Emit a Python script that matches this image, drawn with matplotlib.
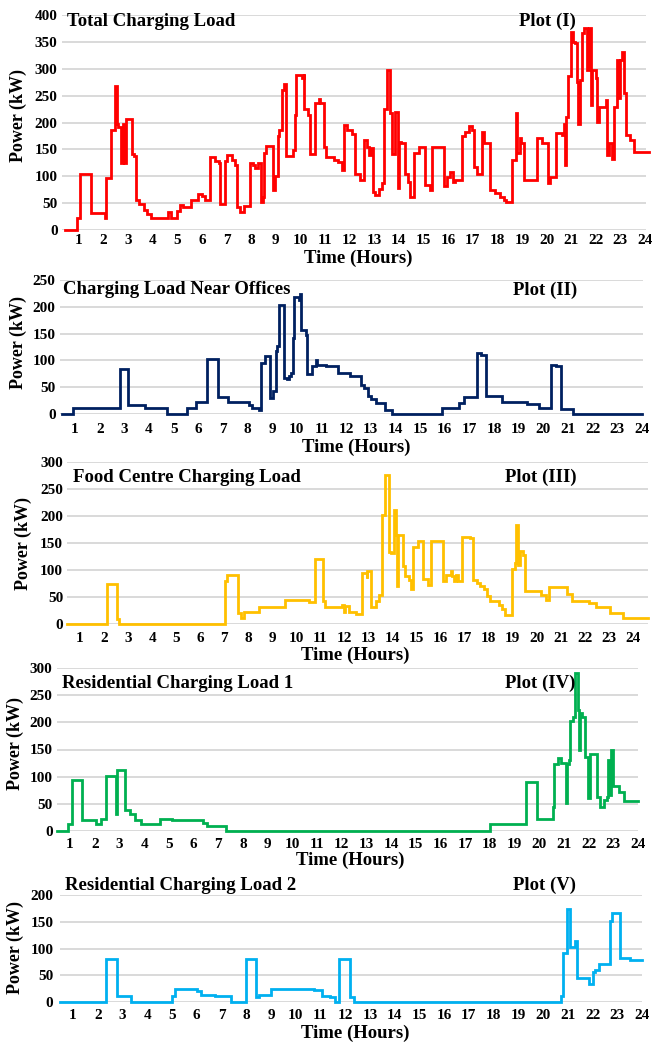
import matplotlib
matplotlib.use("Agg")
import matplotlib.pyplot as plt

W, H = 652, 1043

# Plot (I) - total charging load, step breakpoints (hour, kW)
hours_total = [0.44, 0.92, 1.05, 1.49, 2.07, 2.11, 2.30, 2.48, 2.54, 2.60, 2.71, 2.79, 2.84, 2.90,
               3.15, 3.25, 3.33, 3.46, 3.65, 3.79, 3.93, 4.64, 4.74, 4.98, 5.12, 5.25, 5.55, 5.86,
               6.00, 6.13, 6.34, 6.54, 6.68, 6.74, 6.95, 7.01, 7.22, 7.35, 7.42, 7.56, 7.73, 7.96,
               8.07, 8.17, 8.30, 8.40, 8.50, 8.53, 8.60, 8.91, 8.98, 9.11, 9.15, 9.25, 9.35, 9.43,
               9.72, 9.79, 9.83, 10.06, 10.13, 10.16, 10.33, 10.40, 10.61, 10.74, 10.78, 10.98,
               11.05, 11.35, 11.55, 11.69, 11.76, 11.89, 12.10, 12.23, 12.41, 12.57, 12.71, 12.77,
               12.87, 12.94, 13.02, 13.18, 13.32, 13.38, 13.52, 13.66, 13.72, 13.86, 13.95, 13.99,
               14.09, 14.27, 14.36, 14.47, 14.60, 14.83, 15.08, 15.28, 15.35, 15.82, 15.96, 16.09,
               16.20, 16.30, 16.57, 16.70, 16.84, 16.98, 17.07, 17.18, 17.38, 17.48, 17.72, 17.92,
               18.13, 18.26, 18.37, 18.60, 18.74, 18.80, 18.91, 18.98, 19.10, 19.62, 19.82, 20.06,
               20.16, 20.40, 20.63, 20.70, 20.77, 20.81, 20.86, 21.00, 21.08, 21.14, 21.22, 21.27,
               21.35, 21.45, 21.54, 21.65, 21.72, 21.79, 21.85, 21.99, 22.06, 22.12, 22.40, 22.46,
               22.53, 22.67, 22.76, 22.87, 22.94, 23.00, 23.07, 23.14, 23.21, 23.41, 23.55, 24.16]
power_total = [0, 22, 104, 31, 22, 96, 186, 268, 198, 192, 124, 198, 124, 207,
               141, 138, 56, 48, 37, 30, 22, 33, 22, 36, 47, 43, 56, 67,
               64, 56, 136, 128, 124, 48, 128, 140, 131, 121, 43, 34, 45, 125,
               121, 115, 125, 53, 62, 144, 156, 74, 100, 174, 186, 260, 271, 138,
               149, 214, 288, 282, 291, 226, 214, 141, 236, 243, 236, 155,
               135, 131, 127, 112, 195, 186, 178, 104, 93, 167, 155, 140,
               152, 71, 65, 76, 87, 226, 298, 217, 141, 220, 78, 164,
               161, 105, 90, 62, 143, 155, 84, 74, 155, 81, 99, 108,
               90, 93, 174, 183, 193, 186, 118, 105, 183, 161, 74, 69,
               62, 56, 53, 130, 217, 143, 171, 161, 93, 171, 161, 87,
               99, 180, 177, 198, 121, 211, 286, 369, 350, 347, 276, 198,
               279, 366, 375, 298, 375, 232, 298, 282, 201, 229, 242, 140,
               161, 133, 229, 316, 245, 316, 332, 254, 177, 167, 146, 146]

# Plot (II) - near offices
hours_office = [0.46, 0.90, 2.84, 3.14, 3.82, 4.74, 5.56, 5.90, 6.37, 6.78, 7.19, 8.07, 8.17,
                8.46, 8.55, 8.69, 8.89, 9.03, 9.16, 9.20, 9.26, 9.46, 9.61, 9.67, 9.78, 9.84,
                9.88, 10.07, 10.12, 10.18, 10.35, 10.41, 10.62, 10.76, 10.80, 11.18, 11.66,
                12.14, 12.59, 12.72, 12.88, 13.02, 13.22, 13.56, 13.86, 15.88, 16.56, 16.76,
                17.31, 17.48, 17.67, 18.30, 19.35, 19.82, 20.30, 20.53, 20.71, 21.21, 24.01]
power_office = [0, 11, 84, 17, 11, 0, 11, 22, 103, 31, 22, 17, 11,
                7, 96, 109, 30, 42, 117, 126, 203, 68, 66, 70, 76, 141,
                219, 213, 223, 156, 148, 75, 89, 101, 92, 89, 76,
                71, 55, 48, 34, 28, 20, 8, 0, 11, 20, 32,
                113, 110, 33, 22, 19, 11, 92, 89, 9, 0, 0]

# Plot (III) - food centre
hours_food = [0.45, 2.13, 2.54, 2.63, 7.04, 7.11, 7.55, 7.69, 7.83, 8.45, 9.52, 10.52, 10.77,
              11.10, 11.20, 11.90, 11.97, 12.04, 12.18, 12.46, 12.74, 12.92, 12.95, 13.12,
              13.30, 13.44, 13.55, 13.69, 13.83, 13.93, 14.04, 14.14, 14.18, 14.24, 14.42,
              14.52, 14.70, 14.77, 14.84, 15.05, 15.26, 15.47, 15.61, 16.10, 16.24, 16.42,
              16.49, 16.56, 16.62, 16.70, 16.87, 17.22, 17.36, 17.50, 17.64, 17.78, 17.92,
              18.06, 18.41, 18.55, 18.69, 18.97, 19.10, 19.13, 19.22, 19.31, 19.41, 19.52,
              20.15, 20.36, 20.50, 21.27, 21.48, 22.18, 22.46, 23.02, 23.58, 24.63]
power_food = [0, 74, 9, 0, 79, 90, 20, 11, 22, 31, 44, 41, 121,
              42, 31, 35, 22, 33, 23, 19, 94, 85, 99, 31,
              42, 54, 202, 275, 134, 131, 212, 165, 70, 164, 107,
              88, 82, 64, 143, 153, 84, 73, 154, 79, 91, 99,
              88, 79, 90, 80, 162, 159, 82, 76, 70, 64, 51,
              42, 36, 28, 17, 101, 113, 184, 110, 136, 128, 62,
              54, 44, 68, 56, 43, 39, 31, 20, 11, 11]

# Plot (IV) - residential 1
hours_res1 = [0.47, 0.91, 1.07, 1.47, 2.04, 2.27, 2.44, 2.87, 2.89, 3.24, 3.43, 3.64, 3.89,
              4.63, 5.13, 6.40, 6.56, 7.33, 18.01, 19.47, 19.89, 20.54, 20.61, 20.75, 20.89,
              21.09, 21.13, 21.19, 21.26, 21.37, 21.44, 21.58, 21.61, 21.65, 21.72, 21.85,
              21.99, 22.06, 22.34, 22.48, 22.62, 22.75, 22.80, 22.85, 22.92, 22.99, 23.24,
              23.45, 24.00]
power_res1 = [0, 13, 93, 20, 12, 22, 102, 31, 113, 38, 31, 20, 12,
              23, 20, 14, 10, 0, 12, 91, 22, 45, 124, 134, 125,
              52, 124, 131, 202, 210, 290, 223, 149, 217, 210, 137,
              60, 142, 62, 45, 57, 63, 131, 66, 149, 83, 71,
              56, 56]

# Plot (V) - residential 2
hours_res2 = [0.46, 2.32, 2.76, 3.36, 5.01, 5.12, 6.00, 6.18, 6.74, 7.38, 8.00, 8.41, 8.50,
              9.00, 10.73, 11.07, 11.37, 11.60, 11.73, 12.20, 12.34, 20.72, 20.80, 20.96,
              21.10, 21.30, 21.39, 21.84, 22.01, 22.11, 22.28, 22.69, 22.78, 23.12, 23.52, 24.00]
power_res2 = [0, 81, 11, 0, 12, 25, 21, 14, 11, 0, 81, 9, 14,
              25, 22, 11, 9, 0, 81, 9, 0, 11, 91, 173,
              102, 114, 44, 34, 56, 59, 71, 152, 166, 83, 79, 79]

hour_ticks = list(range(1, 25))

FONT = "Liberation Serif"


def fig_text(fig, x, y, s, **kw):
    fig.text(x / W, 1 - y / H, s, family=FONT, fontweight="bold", **kw)


def draw_panel(fig, hours, power, color, box, xlim, ymax, ystep, title, title_xy,
               tag, tag_xy, ylabel_xy, xlabel_xy, xpad, ypad):
    left, top, right, bottom = box
    ax = fig.add_axes([left / W, 1 - bottom / H, (right - left) / W, (bottom - top) / H])
    ax.step(hours, power, where="post", color=color, lw=2.0, clip_on=False,
            solid_joinstyle="miter", zorder=3)
    ax.set_xlim(*xlim)
    ax.set_ylim(0, ymax)
    ax.set_xticks(hour_ticks)
    ax.set_yticks(range(0, ymax + 1, ystep))
    ax.grid(axis="y", color="#d9d9d9", lw=1.4)
    ax.set_axisbelow(True)
    for s in ax.spines.values():
        s.set_visible(False)
    ax.tick_params(axis="x", length=0, pad=xpad)
    ax.tick_params(axis="y", length=0, pad=ypad)
    for lab in ax.get_xticklabels() + ax.get_yticklabels():
        lab.set_family(FONT)
        lab.set_fontweight("bold")
        lab.set_fontsize(11)
    fig_text(fig, *title_xy, title, fontsize=13.5, ha="left", va="center")
    fig_text(fig, *tag_xy, tag, fontsize=13.5, ha="left", va="center")
    fig_text(fig, *ylabel_xy, "Power (kW)", fontsize=13, ha="center", va="center", rotation=90)
    fig_text(fig, *xlabel_xy, "Time (Hours)", fontsize=13.5, ha="center", va="center")
    return ax


def main():
    fig = plt.figure(figsize=(W / 100, H / 100), dpi=100)

    draw_panel(fig, hours_total, power_total, "#ff0000", (62, 15, 646, 230), (0.32, 24.04),
               400, 50, "Total Charging Load", (67, 21), "Plot (I)", (519, 21),
               (18, 115), (358, 258), 2.8, 3.2)
    draw_panel(fig, hours_office, power_office, "#002060", (60, 280, 643, 414), (0.39, 24.04),
               250, 50, "Charging Load Near Offices", (63, 290), "Plot (II)", (513, 290),
               (18, 342), (356, 447), 6.8, 3.2)
    draw_panel(fig, hours_food, power_food, "#ffc000", (67, 462, 648, 624), (0.46, 24.62),
               300, 50, "Food Centre Charging Load", (73, 477), "Plot (III)", (505, 477),
               (23, 543), (355, 655), 5.8, 2.8)
    draw_panel(fig, hours_res1, power_res1, "#00b050", (57, 668, 638, 831), (0.47, 24.0),
               300, 50, "Residential Charging Load 1", (62, 683), "Plot (IV)", (505, 683),
               (15, 743), (350, 860), 5.3, 3.2)
    draw_panel(fig, hours_res2, power_res2, "#00b0f0", (60, 895, 642, 1002), (0.47, 24.0),
               200, 50, "Residential Charging Load 2", (65, 885), "Plot (V)", (513, 885),
               (15, 948), (355, 1033), 5.3, 4.8)

    fig.savefig("out.png", dpi=100)


if __name__ == "__main__":
    main()
